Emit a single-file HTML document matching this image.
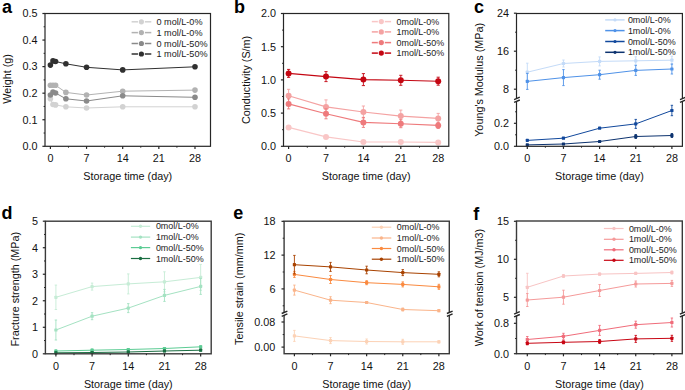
<!DOCTYPE html><html><head><meta charset="utf-8"><style>html,body{margin:0;padding:0;background:#fff;}svg{display:block;}text{font-family:"Liberation Sans",sans-serif;}</style></head><body>
<svg width="685" height="390" viewBox="0 0 685 390">
<rect width="685" height="390" fill="#fff"/>
<polyline points="50.40,98.80 52.98,104.50 55.56,104.90 65.89,106.80 86.55,108.00 122.70,106.80 194.99,106.80" fill="none" stroke="#d2d2d2" stroke-width="1.0"/>
<circle cx="50.40" cy="98.80" r="2.8" fill="#d2d2d2"/>
<circle cx="52.98" cy="104.50" r="2.8" fill="#d2d2d2"/>
<circle cx="55.56" cy="104.90" r="2.8" fill="#d2d2d2"/>
<circle cx="65.89" cy="106.80" r="2.8" fill="#d2d2d2"/>
<circle cx="86.55" cy="108.00" r="2.8" fill="#d2d2d2"/>
<circle cx="122.70" cy="106.80" r="2.8" fill="#d2d2d2"/>
<circle cx="194.99" cy="106.80" r="2.8" fill="#d2d2d2"/>
<polyline points="50.40,85.30 52.98,85.30 55.56,85.30 65.89,92.40 86.55,95.00 122.70,91.20 194.99,90.10" fill="none" stroke="#b2b2b2" stroke-width="1.0"/>
<circle cx="50.40" cy="85.30" r="2.8" fill="#b2b2b2"/>
<circle cx="52.98" cy="85.30" r="2.8" fill="#b2b2b2"/>
<circle cx="55.56" cy="85.30" r="2.8" fill="#b2b2b2"/>
<circle cx="65.89" cy="92.40" r="2.8" fill="#b2b2b2"/>
<circle cx="86.55" cy="95.00" r="2.8" fill="#b2b2b2"/>
<circle cx="122.70" cy="91.20" r="2.8" fill="#b2b2b2"/>
<circle cx="194.99" cy="90.10" r="2.8" fill="#b2b2b2"/>
<polyline points="50.40,95.00 52.98,92.00 55.56,93.00 65.89,98.80 86.55,101.00 122.70,95.80 194.99,97.30" fill="none" stroke="#8a8a8a" stroke-width="1.0"/>
<circle cx="50.40" cy="95.00" r="2.8" fill="#8a8a8a"/>
<circle cx="52.98" cy="92.00" r="2.8" fill="#8a8a8a"/>
<circle cx="55.56" cy="93.00" r="2.8" fill="#8a8a8a"/>
<circle cx="65.89" cy="98.80" r="2.8" fill="#8a8a8a"/>
<circle cx="86.55" cy="101.00" r="2.8" fill="#8a8a8a"/>
<circle cx="122.70" cy="95.80" r="2.8" fill="#8a8a8a"/>
<circle cx="194.99" cy="97.30" r="2.8" fill="#8a8a8a"/>
<polyline points="50.40,65.10 52.98,60.90 55.56,61.50 65.89,63.80 86.55,67.30 122.70,69.90 194.99,66.80" fill="none" stroke="#303030" stroke-width="1.0"/>
<circle cx="50.40" cy="65.10" r="2.8" fill="#303030"/>
<circle cx="52.98" cy="60.90" r="2.8" fill="#303030"/>
<circle cx="55.56" cy="61.50" r="2.8" fill="#303030"/>
<circle cx="65.89" cy="63.80" r="2.8" fill="#303030"/>
<circle cx="86.55" cy="67.30" r="2.8" fill="#303030"/>
<circle cx="122.70" cy="69.90" r="2.8" fill="#303030"/>
<circle cx="194.99" cy="66.80" r="2.8" fill="#303030"/>
<rect x="45.00" y="13.50" width="165.50" height="132.80" fill="none" stroke="#262626" stroke-width="1.2"/>
<line x1="42.40" y1="146.30" x2="45.00" y2="146.30" stroke="#262626" stroke-width="1.2" />
<text x="37.60" y="150.10" font-size="10.8" text-anchor="end" font-weight="normal" fill="#111" >0.0</text>
<line x1="42.40" y1="119.74" x2="45.00" y2="119.74" stroke="#262626" stroke-width="1.2" />
<text x="37.60" y="123.54" font-size="10.8" text-anchor="end" font-weight="normal" fill="#111" >0.1</text>
<line x1="42.40" y1="93.18" x2="45.00" y2="93.18" stroke="#262626" stroke-width="1.2" />
<text x="37.60" y="96.98" font-size="10.8" text-anchor="end" font-weight="normal" fill="#111" >0.2</text>
<line x1="42.40" y1="66.62" x2="45.00" y2="66.62" stroke="#262626" stroke-width="1.2" />
<text x="37.60" y="70.42" font-size="10.8" text-anchor="end" font-weight="normal" fill="#111" >0.3</text>
<line x1="42.40" y1="40.06" x2="45.00" y2="40.06" stroke="#262626" stroke-width="1.2" />
<text x="37.60" y="43.86" font-size="10.8" text-anchor="end" font-weight="normal" fill="#111" >0.4</text>
<line x1="42.40" y1="13.50" x2="45.00" y2="13.50" stroke="#262626" stroke-width="1.2" />
<text x="37.60" y="17.30" font-size="10.8" text-anchor="end" font-weight="normal" fill="#111" >0.5</text>
<line x1="43.60" y1="133.02" x2="45.00" y2="133.02" stroke="#262626" stroke-width="1.0" />
<line x1="43.60" y1="106.46" x2="45.00" y2="106.46" stroke="#262626" stroke-width="1.0" />
<line x1="43.60" y1="79.90" x2="45.00" y2="79.90" stroke="#262626" stroke-width="1.0" />
<line x1="43.60" y1="53.34" x2="45.00" y2="53.34" stroke="#262626" stroke-width="1.0" />
<line x1="43.60" y1="26.78" x2="45.00" y2="26.78" stroke="#262626" stroke-width="1.0" />
<line x1="50.40" y1="146.30" x2="50.40" y2="148.90" stroke="#262626" stroke-width="1.2" />
<text x="50.40" y="161.60" font-size="10.8" text-anchor="middle" font-weight="normal" fill="#111" >0</text>
<line x1="86.55" y1="146.30" x2="86.55" y2="148.90" stroke="#262626" stroke-width="1.2" />
<text x="86.55" y="161.60" font-size="10.8" text-anchor="middle" font-weight="normal" fill="#111" >7</text>
<line x1="122.70" y1="146.30" x2="122.70" y2="148.90" stroke="#262626" stroke-width="1.2" />
<text x="122.70" y="161.60" font-size="10.8" text-anchor="middle" font-weight="normal" fill="#111" >14</text>
<line x1="158.84" y1="146.30" x2="158.84" y2="148.90" stroke="#262626" stroke-width="1.2" />
<text x="158.84" y="161.60" font-size="10.8" text-anchor="middle" font-weight="normal" fill="#111" >21</text>
<line x1="194.99" y1="146.30" x2="194.99" y2="148.90" stroke="#262626" stroke-width="1.2" />
<text x="194.99" y="161.60" font-size="10.8" text-anchor="middle" font-weight="normal" fill="#111" >28</text>
<line x1="68.47" y1="146.30" x2="68.47" y2="147.70" stroke="#262626" stroke-width="1.0" />
<line x1="104.62" y1="146.30" x2="104.62" y2="147.70" stroke="#262626" stroke-width="1.0" />
<line x1="140.77" y1="146.30" x2="140.77" y2="147.70" stroke="#262626" stroke-width="1.0" />
<line x1="176.92" y1="146.30" x2="176.92" y2="147.70" stroke="#262626" stroke-width="1.0" />
<line x1="131.60" y1="21.80" x2="151.30" y2="21.80" stroke="#d2d2d2" stroke-width="1.5" />
<circle cx="141.40" cy="21.80" r="3.5" fill="#fff"/>
<circle cx="141.40" cy="21.80" r="2.6" fill="#d2d2d2"/>
<line x1="131.60" y1="32.60" x2="151.30" y2="32.60" stroke="#b2b2b2" stroke-width="1.5" />
<circle cx="141.40" cy="32.60" r="3.5" fill="#fff"/>
<circle cx="141.40" cy="32.60" r="2.6" fill="#b2b2b2"/>
<line x1="131.60" y1="43.50" x2="151.30" y2="43.50" stroke="#8a8a8a" stroke-width="1.5" />
<circle cx="141.40" cy="43.50" r="3.5" fill="#fff"/>
<circle cx="141.40" cy="43.50" r="2.6" fill="#8a8a8a"/>
<line x1="131.60" y1="54.00" x2="151.30" y2="54.00" stroke="#303030" stroke-width="1.5" />
<circle cx="141.40" cy="54.00" r="3.5" fill="#fff"/>
<circle cx="141.40" cy="54.00" r="2.6" fill="#303030"/>
<text x="156.50" y="24.90" font-size="9.1" fill="#222">0 mol/L-0%</text>
<text x="156.50" y="35.70" font-size="9.1" fill="#222">1 mol/L-0%</text>
<text x="156.50" y="46.60" font-size="9.1" fill="#222">0 mol/L-50%</text>
<text x="156.50" y="57.10" font-size="9.1" fill="#222">1 mol/L-50%</text>
<text x="0" y="0" font-size="10.8" text-anchor="middle" fill="#111" transform="translate(10.80,78.90) rotate(-90)">Weight (g)</text>
<text x="127.75" y="179.70" font-size="10.8" text-anchor="middle" font-weight="normal" fill="#111" >Storage time (day)</text>
<text x="2.00" y="12.60" font-size="18" text-anchor="start" font-weight="bold" fill="#000" >a</text>
<polyline points="288.60,127.40 326.00,136.90 363.40,142.00 400.80,142.00 438.20,142.40" fill="none" stroke="#f9c6c6" stroke-width="1.1"/>
<circle cx="288.60" cy="127.40" r="3.0" fill="#f9c6c6"/>
<circle cx="326.00" cy="136.90" r="3.0" fill="#f9c6c6"/>
<circle cx="363.40" cy="142.00" r="3.0" fill="#f9c6c6"/>
<circle cx="400.80" cy="142.00" r="3.0" fill="#f9c6c6"/>
<circle cx="438.20" cy="142.40" r="3.0" fill="#f9c6c6"/>
<polyline points="288.60,95.80 326.00,106.90 363.40,112.00 400.80,116.10 438.20,118.40" fill="none" stroke="#f4a2a2" stroke-width="1.1"/>
<line x1="288.60" y1="89.30" x2="288.60" y2="102.30" stroke="#f4a2a2" stroke-width="0.9" />
<line x1="287.00" y1="89.30" x2="290.20" y2="89.30" stroke="#f4a2a2" stroke-width="0.9" />
<line x1="287.00" y1="102.30" x2="290.20" y2="102.30" stroke="#f4a2a2" stroke-width="0.9" />
<line x1="326.00" y1="99.90" x2="326.00" y2="113.90" stroke="#f4a2a2" stroke-width="0.9" />
<line x1="324.40" y1="99.90" x2="327.60" y2="99.90" stroke="#f4a2a2" stroke-width="0.9" />
<line x1="324.40" y1="113.90" x2="327.60" y2="113.90" stroke="#f4a2a2" stroke-width="0.9" />
<line x1="363.40" y1="106.00" x2="363.40" y2="118.00" stroke="#f4a2a2" stroke-width="0.9" />
<line x1="361.80" y1="106.00" x2="365.00" y2="106.00" stroke="#f4a2a2" stroke-width="0.9" />
<line x1="361.80" y1="118.00" x2="365.00" y2="118.00" stroke="#f4a2a2" stroke-width="0.9" />
<line x1="400.80" y1="110.10" x2="400.80" y2="122.10" stroke="#f4a2a2" stroke-width="0.9" />
<line x1="399.20" y1="110.10" x2="402.40" y2="110.10" stroke="#f4a2a2" stroke-width="0.9" />
<line x1="399.20" y1="122.10" x2="402.40" y2="122.10" stroke="#f4a2a2" stroke-width="0.9" />
<line x1="438.20" y1="113.40" x2="438.20" y2="123.40" stroke="#f4a2a2" stroke-width="0.9" />
<line x1="436.60" y1="113.40" x2="439.80" y2="113.40" stroke="#f4a2a2" stroke-width="0.9" />
<line x1="436.60" y1="123.40" x2="439.80" y2="123.40" stroke="#f4a2a2" stroke-width="0.9" />
<circle cx="288.60" cy="95.80" r="3.0" fill="#f4a2a2"/>
<circle cx="326.00" cy="106.90" r="3.0" fill="#f4a2a2"/>
<circle cx="363.40" cy="112.00" r="3.0" fill="#f4a2a2"/>
<circle cx="400.80" cy="116.10" r="3.0" fill="#f4a2a2"/>
<circle cx="438.20" cy="118.40" r="3.0" fill="#f4a2a2"/>
<polyline points="288.60,103.90 326.00,113.80 363.40,122.40 400.80,123.70 438.20,125.40" fill="none" stroke="#ee7a7c" stroke-width="1.1"/>
<line x1="288.60" y1="98.90" x2="288.60" y2="108.90" stroke="#ee7a7c" stroke-width="0.9" />
<line x1="287.00" y1="98.90" x2="290.20" y2="98.90" stroke="#ee7a7c" stroke-width="0.9" />
<line x1="287.00" y1="108.90" x2="290.20" y2="108.90" stroke="#ee7a7c" stroke-width="0.9" />
<line x1="326.00" y1="108.80" x2="326.00" y2="118.80" stroke="#ee7a7c" stroke-width="0.9" />
<line x1="324.40" y1="108.80" x2="327.60" y2="108.80" stroke="#ee7a7c" stroke-width="0.9" />
<line x1="324.40" y1="118.80" x2="327.60" y2="118.80" stroke="#ee7a7c" stroke-width="0.9" />
<line x1="363.40" y1="117.40" x2="363.40" y2="127.40" stroke="#ee7a7c" stroke-width="0.9" />
<line x1="361.80" y1="117.40" x2="365.00" y2="117.40" stroke="#ee7a7c" stroke-width="0.9" />
<line x1="361.80" y1="127.40" x2="365.00" y2="127.40" stroke="#ee7a7c" stroke-width="0.9" />
<line x1="400.80" y1="119.70" x2="400.80" y2="127.70" stroke="#ee7a7c" stroke-width="0.9" />
<line x1="399.20" y1="119.70" x2="402.40" y2="119.70" stroke="#ee7a7c" stroke-width="0.9" />
<line x1="399.20" y1="127.70" x2="402.40" y2="127.70" stroke="#ee7a7c" stroke-width="0.9" />
<line x1="438.20" y1="122.40" x2="438.20" y2="128.40" stroke="#ee7a7c" stroke-width="0.9" />
<line x1="436.60" y1="122.40" x2="439.80" y2="122.40" stroke="#ee7a7c" stroke-width="0.9" />
<line x1="436.60" y1="128.40" x2="439.80" y2="128.40" stroke="#ee7a7c" stroke-width="0.9" />
<circle cx="288.60" cy="103.90" r="3.0" fill="#ee7a7c"/>
<circle cx="326.00" cy="113.80" r="3.0" fill="#ee7a7c"/>
<circle cx="363.40" cy="122.40" r="3.0" fill="#ee7a7c"/>
<circle cx="400.80" cy="123.70" r="3.0" fill="#ee7a7c"/>
<circle cx="438.20" cy="125.40" r="3.0" fill="#ee7a7c"/>
<polyline points="288.60,73.40 326.00,76.60 363.40,79.60 400.80,80.30 438.20,81.20" fill="none" stroke="#c40612" stroke-width="1.1"/>
<line x1="288.60" y1="69.40" x2="288.60" y2="77.40" stroke="#c40612" stroke-width="0.9" />
<line x1="287.00" y1="69.40" x2="290.20" y2="69.40" stroke="#c40612" stroke-width="0.9" />
<line x1="287.00" y1="77.40" x2="290.20" y2="77.40" stroke="#c40612" stroke-width="0.9" />
<line x1="326.00" y1="71.60" x2="326.00" y2="81.60" stroke="#c40612" stroke-width="0.9" />
<line x1="324.40" y1="71.60" x2="327.60" y2="71.60" stroke="#c40612" stroke-width="0.9" />
<line x1="324.40" y1="81.60" x2="327.60" y2="81.60" stroke="#c40612" stroke-width="0.9" />
<line x1="363.40" y1="73.60" x2="363.40" y2="85.60" stroke="#c40612" stroke-width="0.9" />
<line x1="361.80" y1="73.60" x2="365.00" y2="73.60" stroke="#c40612" stroke-width="0.9" />
<line x1="361.80" y1="85.60" x2="365.00" y2="85.60" stroke="#c40612" stroke-width="0.9" />
<line x1="400.80" y1="75.30" x2="400.80" y2="85.30" stroke="#c40612" stroke-width="0.9" />
<line x1="399.20" y1="75.30" x2="402.40" y2="75.30" stroke="#c40612" stroke-width="0.9" />
<line x1="399.20" y1="85.30" x2="402.40" y2="85.30" stroke="#c40612" stroke-width="0.9" />
<line x1="438.20" y1="77.20" x2="438.20" y2="85.20" stroke="#c40612" stroke-width="0.9" />
<line x1="436.60" y1="77.20" x2="439.80" y2="77.20" stroke="#c40612" stroke-width="0.9" />
<line x1="436.60" y1="85.20" x2="439.80" y2="85.20" stroke="#c40612" stroke-width="0.9" />
<circle cx="288.60" cy="73.40" r="3.0" fill="#c40612"/>
<circle cx="326.00" cy="76.60" r="3.0" fill="#c40612"/>
<circle cx="363.40" cy="79.60" r="3.0" fill="#c40612"/>
<circle cx="400.80" cy="80.30" r="3.0" fill="#c40612"/>
<circle cx="438.20" cy="81.20" r="3.0" fill="#c40612"/>
<rect x="283.50" y="13.50" width="165.30" height="132.80" fill="none" stroke="#262626" stroke-width="1.2"/>
<line x1="280.90" y1="146.30" x2="283.50" y2="146.30" stroke="#262626" stroke-width="1.2" />
<text x="276.10" y="150.10" font-size="10.8" text-anchor="end" font-weight="normal" fill="#111" >0.0</text>
<line x1="280.90" y1="113.10" x2="283.50" y2="113.10" stroke="#262626" stroke-width="1.2" />
<text x="276.10" y="116.90" font-size="10.8" text-anchor="end" font-weight="normal" fill="#111" >0.5</text>
<line x1="280.90" y1="79.90" x2="283.50" y2="79.90" stroke="#262626" stroke-width="1.2" />
<text x="276.10" y="83.70" font-size="10.8" text-anchor="end" font-weight="normal" fill="#111" >1.0</text>
<line x1="280.90" y1="46.70" x2="283.50" y2="46.70" stroke="#262626" stroke-width="1.2" />
<text x="276.10" y="50.50" font-size="10.8" text-anchor="end" font-weight="normal" fill="#111" >1.5</text>
<line x1="280.90" y1="13.50" x2="283.50" y2="13.50" stroke="#262626" stroke-width="1.2" />
<text x="276.10" y="17.30" font-size="10.8" text-anchor="end" font-weight="normal" fill="#111" >2.0</text>
<line x1="282.10" y1="129.70" x2="283.50" y2="129.70" stroke="#262626" stroke-width="1.0" />
<line x1="282.10" y1="96.50" x2="283.50" y2="96.50" stroke="#262626" stroke-width="1.0" />
<line x1="282.10" y1="63.30" x2="283.50" y2="63.30" stroke="#262626" stroke-width="1.0" />
<line x1="282.10" y1="30.10" x2="283.50" y2="30.10" stroke="#262626" stroke-width="1.0" />
<line x1="288.60" y1="146.30" x2="288.60" y2="148.90" stroke="#262626" stroke-width="1.2" />
<text x="288.60" y="161.60" font-size="10.8" text-anchor="middle" font-weight="normal" fill="#111" >0</text>
<line x1="326.00" y1="146.30" x2="326.00" y2="148.90" stroke="#262626" stroke-width="1.2" />
<text x="326.00" y="161.60" font-size="10.8" text-anchor="middle" font-weight="normal" fill="#111" >7</text>
<line x1="363.40" y1="146.30" x2="363.40" y2="148.90" stroke="#262626" stroke-width="1.2" />
<text x="363.40" y="161.60" font-size="10.8" text-anchor="middle" font-weight="normal" fill="#111" >14</text>
<line x1="400.80" y1="146.30" x2="400.80" y2="148.90" stroke="#262626" stroke-width="1.2" />
<text x="400.80" y="161.60" font-size="10.8" text-anchor="middle" font-weight="normal" fill="#111" >21</text>
<line x1="438.20" y1="146.30" x2="438.20" y2="148.90" stroke="#262626" stroke-width="1.2" />
<text x="438.20" y="161.60" font-size="10.8" text-anchor="middle" font-weight="normal" fill="#111" >28</text>
<line x1="307.30" y1="146.30" x2="307.30" y2="147.70" stroke="#262626" stroke-width="1.0" />
<line x1="344.70" y1="146.30" x2="344.70" y2="147.70" stroke="#262626" stroke-width="1.0" />
<line x1="382.10" y1="146.30" x2="382.10" y2="147.70" stroke="#262626" stroke-width="1.0" />
<line x1="419.50" y1="146.30" x2="419.50" y2="147.70" stroke="#262626" stroke-width="1.0" />
<line x1="371.80" y1="21.60" x2="391.10" y2="21.60" stroke="#f9c6c6" stroke-width="1.5" />
<circle cx="381.30" cy="21.60" r="3.5" fill="#fff"/>
<circle cx="381.30" cy="21.60" r="2.6" fill="#f9c6c6"/>
<line x1="371.80" y1="31.90" x2="391.10" y2="31.90" stroke="#f4a2a2" stroke-width="1.5" />
<circle cx="381.30" cy="31.90" r="3.5" fill="#fff"/>
<circle cx="381.30" cy="31.90" r="2.6" fill="#f4a2a2"/>
<line x1="371.80" y1="42.60" x2="391.10" y2="42.60" stroke="#ee7a7c" stroke-width="1.5" />
<circle cx="381.30" cy="42.60" r="3.5" fill="#fff"/>
<circle cx="381.30" cy="42.60" r="2.6" fill="#ee7a7c"/>
<line x1="371.80" y1="53.10" x2="391.10" y2="53.10" stroke="#c40612" stroke-width="1.5" />
<circle cx="381.30" cy="53.10" r="3.5" fill="#fff"/>
<circle cx="381.30" cy="53.10" r="2.6" fill="#c40612"/>
<text x="396.50" y="24.70" font-size="8.95" fill="#222">0mol/L-0%</text>
<text x="396.50" y="35.00" font-size="8.95" fill="#222">1mol/L-0%</text>
<text x="396.50" y="45.70" font-size="8.95" fill="#222">0mol/L-50%</text>
<text x="396.50" y="56.20" font-size="8.95" fill="#222">1mol/L-50%</text>
<text x="0" y="0" font-size="10.8" text-anchor="middle" fill="#111" transform="translate(250.20,79.90) rotate(-90)">Conductivity (S/m)</text>
<text x="366.15" y="179.70" font-size="10.8" text-anchor="middle" font-weight="normal" fill="#111" >Storage time (day)</text>
<text x="234.00" y="12.90" font-size="18" text-anchor="start" font-weight="bold" fill="#000" >b</text>
<polyline points="527.30,72.20 563.45,63.50 599.60,61.40 635.74,60.80 671.89,60.20" fill="none" stroke="#c4dbf8" stroke-width="1.0"/>
<line x1="527.30" y1="63.20" x2="527.30" y2="81.20" stroke="#c4dbf8" stroke-width="0.9" />
<line x1="526.10" y1="63.20" x2="528.50" y2="63.20" stroke="#c4dbf8" stroke-width="0.9" />
<line x1="526.10" y1="81.20" x2="528.50" y2="81.20" stroke="#c4dbf8" stroke-width="0.9" />
<line x1="563.45" y1="60.00" x2="563.45" y2="67.00" stroke="#c4dbf8" stroke-width="0.9" />
<line x1="562.25" y1="60.00" x2="564.65" y2="60.00" stroke="#c4dbf8" stroke-width="0.9" />
<line x1="562.25" y1="67.00" x2="564.65" y2="67.00" stroke="#c4dbf8" stroke-width="0.9" />
<line x1="599.60" y1="56.90" x2="599.60" y2="65.90" stroke="#c4dbf8" stroke-width="0.9" />
<line x1="598.40" y1="56.90" x2="600.80" y2="56.90" stroke="#c4dbf8" stroke-width="0.9" />
<line x1="598.40" y1="65.90" x2="600.80" y2="65.90" stroke="#c4dbf8" stroke-width="0.9" />
<line x1="635.74" y1="56.80" x2="635.74" y2="64.80" stroke="#c4dbf8" stroke-width="0.9" />
<line x1="634.54" y1="56.80" x2="636.94" y2="56.80" stroke="#c4dbf8" stroke-width="0.9" />
<line x1="634.54" y1="64.80" x2="636.94" y2="64.80" stroke="#c4dbf8" stroke-width="0.9" />
<line x1="671.89" y1="56.20" x2="671.89" y2="64.20" stroke="#c4dbf8" stroke-width="0.9" />
<line x1="670.69" y1="56.20" x2="673.09" y2="56.20" stroke="#c4dbf8" stroke-width="0.9" />
<line x1="670.69" y1="64.20" x2="673.09" y2="64.20" stroke="#c4dbf8" stroke-width="0.9" />
<rect x="525.70" y="70.60" width="3.20" height="3.20" rx="0.64" fill="#c4dbf8"/>
<rect x="561.85" y="61.90" width="3.20" height="3.20" rx="0.64" fill="#c4dbf8"/>
<rect x="598.00" y="59.80" width="3.20" height="3.20" rx="0.64" fill="#c4dbf8"/>
<rect x="634.14" y="59.20" width="3.20" height="3.20" rx="0.64" fill="#c4dbf8"/>
<rect x="670.29" y="58.60" width="3.20" height="3.20" rx="0.64" fill="#c4dbf8"/>
<polyline points="527.30,81.40 563.45,77.60 599.60,74.70 635.74,70.40 671.89,69.00" fill="none" stroke="#4f92e8" stroke-width="1.0"/>
<line x1="527.30" y1="73.40" x2="527.30" y2="89.40" stroke="#4f92e8" stroke-width="0.9" />
<line x1="526.10" y1="73.40" x2="528.50" y2="73.40" stroke="#4f92e8" stroke-width="0.9" />
<line x1="526.10" y1="89.40" x2="528.50" y2="89.40" stroke="#4f92e8" stroke-width="0.9" />
<line x1="563.45" y1="69.60" x2="563.45" y2="85.60" stroke="#4f92e8" stroke-width="0.9" />
<line x1="562.25" y1="69.60" x2="564.65" y2="69.60" stroke="#4f92e8" stroke-width="0.9" />
<line x1="562.25" y1="85.60" x2="564.65" y2="85.60" stroke="#4f92e8" stroke-width="0.9" />
<line x1="599.60" y1="70.20" x2="599.60" y2="79.20" stroke="#4f92e8" stroke-width="0.9" />
<line x1="598.40" y1="70.20" x2="600.80" y2="70.20" stroke="#4f92e8" stroke-width="0.9" />
<line x1="598.40" y1="79.20" x2="600.80" y2="79.20" stroke="#4f92e8" stroke-width="0.9" />
<line x1="635.74" y1="65.40" x2="635.74" y2="75.40" stroke="#4f92e8" stroke-width="0.9" />
<line x1="634.54" y1="65.40" x2="636.94" y2="65.40" stroke="#4f92e8" stroke-width="0.9" />
<line x1="634.54" y1="75.40" x2="636.94" y2="75.40" stroke="#4f92e8" stroke-width="0.9" />
<line x1="671.89" y1="64.00" x2="671.89" y2="74.00" stroke="#4f92e8" stroke-width="0.9" />
<line x1="670.69" y1="64.00" x2="673.09" y2="64.00" stroke="#4f92e8" stroke-width="0.9" />
<line x1="670.69" y1="74.00" x2="673.09" y2="74.00" stroke="#4f92e8" stroke-width="0.9" />
<rect x="525.70" y="79.80" width="3.20" height="3.20" rx="0.64" fill="#4f92e8"/>
<rect x="561.85" y="76.00" width="3.20" height="3.20" rx="0.64" fill="#4f92e8"/>
<rect x="598.00" y="73.10" width="3.20" height="3.20" rx="0.64" fill="#4f92e8"/>
<rect x="634.14" y="68.80" width="3.20" height="3.20" rx="0.64" fill="#4f92e8"/>
<rect x="670.29" y="67.40" width="3.20" height="3.20" rx="0.64" fill="#4f92e8"/>
<polyline points="527.30,140.40 563.45,138.20 599.60,128.20 635.74,123.90 671.89,110.50" fill="none" stroke="#11489c" stroke-width="1.0"/>
<line x1="635.74" y1="119.40" x2="635.74" y2="128.40" stroke="#11489c" stroke-width="0.9" />
<line x1="634.54" y1="119.40" x2="636.94" y2="119.40" stroke="#11489c" stroke-width="0.9" />
<line x1="634.54" y1="128.40" x2="636.94" y2="128.40" stroke="#11489c" stroke-width="0.9" />
<line x1="671.89" y1="105.30" x2="671.89" y2="115.70" stroke="#11489c" stroke-width="0.9" />
<line x1="670.69" y1="105.30" x2="673.09" y2="105.30" stroke="#11489c" stroke-width="0.9" />
<line x1="670.69" y1="115.70" x2="673.09" y2="115.70" stroke="#11489c" stroke-width="0.9" />
<rect x="525.70" y="138.80" width="3.20" height="3.20" rx="0.64" fill="#11489c"/>
<rect x="561.85" y="136.60" width="3.20" height="3.20" rx="0.64" fill="#11489c"/>
<rect x="598.00" y="126.60" width="3.20" height="3.20" rx="0.64" fill="#11489c"/>
<rect x="634.14" y="122.30" width="3.20" height="3.20" rx="0.64" fill="#11489c"/>
<rect x="670.29" y="108.90" width="3.20" height="3.20" rx="0.64" fill="#11489c"/>
<polyline points="527.30,144.90 563.45,144.00 599.60,141.50 635.74,136.50 671.89,135.50" fill="none" stroke="#0d336f" stroke-width="1.0"/>
<line x1="635.74" y1="134.50" x2="635.74" y2="138.50" stroke="#0d336f" stroke-width="0.9" />
<line x1="634.54" y1="134.50" x2="636.94" y2="134.50" stroke="#0d336f" stroke-width="0.9" />
<line x1="634.54" y1="138.50" x2="636.94" y2="138.50" stroke="#0d336f" stroke-width="0.9" />
<line x1="671.89" y1="133.50" x2="671.89" y2="137.50" stroke="#0d336f" stroke-width="0.9" />
<line x1="670.69" y1="133.50" x2="673.09" y2="133.50" stroke="#0d336f" stroke-width="0.9" />
<line x1="670.69" y1="137.50" x2="673.09" y2="137.50" stroke="#0d336f" stroke-width="0.9" />
<rect x="525.70" y="143.30" width="3.20" height="3.20" rx="0.64" fill="#0d336f"/>
<rect x="561.85" y="142.40" width="3.20" height="3.20" rx="0.64" fill="#0d336f"/>
<rect x="598.00" y="139.90" width="3.20" height="3.20" rx="0.64" fill="#0d336f"/>
<rect x="634.14" y="134.90" width="3.20" height="3.20" rx="0.64" fill="#0d336f"/>
<rect x="670.29" y="133.90" width="3.20" height="3.20" rx="0.64" fill="#0d336f"/>
<rect x="516.50" y="13.50" width="165.90" height="132.80" fill="none" stroke="#262626" stroke-width="1.2"/>
<line x1="513.90" y1="89.20" x2="516.50" y2="89.20" stroke="#262626" stroke-width="1.2" />
<text x="509.10" y="93.00" font-size="10.8" text-anchor="end" font-weight="normal" fill="#111" >8</text>
<line x1="513.90" y1="51.20" x2="516.50" y2="51.20" stroke="#262626" stroke-width="1.2" />
<text x="509.10" y="55.00" font-size="10.8" text-anchor="end" font-weight="normal" fill="#111" >16</text>
<line x1="513.90" y1="13.20" x2="516.50" y2="13.20" stroke="#262626" stroke-width="1.2" />
<text x="509.10" y="17.00" font-size="10.8" text-anchor="end" font-weight="normal" fill="#111" >24</text>
<line x1="515.10" y1="70.20" x2="516.50" y2="70.20" stroke="#262626" stroke-width="1.0" />
<line x1="515.10" y1="32.20" x2="516.50" y2="32.20" stroke="#262626" stroke-width="1.0" />
<line x1="513.90" y1="146.30" x2="516.50" y2="146.30" stroke="#262626" stroke-width="1.2" />
<text x="509.10" y="150.10" font-size="10.8" text-anchor="end" font-weight="normal" fill="#111" >0.0</text>
<line x1="513.90" y1="123.30" x2="516.50" y2="123.30" stroke="#262626" stroke-width="1.2" />
<text x="509.10" y="127.10" font-size="10.8" text-anchor="end" font-weight="normal" fill="#111" >0.2</text>
<line x1="515.10" y1="134.80" x2="516.50" y2="134.80" stroke="#262626" stroke-width="1.0" />
<line x1="515.10" y1="111.80" x2="516.50" y2="111.80" stroke="#262626" stroke-width="1.0" />
<polygon points="513.50,101.30 519.50,98.90 519.50,98.30 513.50,101.90" fill="#fff"/>
<rect x="515.00" y="98.30" width="3" height="2.8" fill="#fff"/>
<line x1="514.10" y1="99.60" x2="519.80" y2="97.20" stroke="#262626" stroke-width="1.4" />
<line x1="514.10" y1="102.40" x2="519.80" y2="100.00" stroke="#262626" stroke-width="1.4" />
<polygon points="679.40,101.30 685.40,98.90 685.40,98.30 679.40,101.90" fill="#fff"/>
<rect x="680.90" y="98.30" width="3" height="2.8" fill="#fff"/>
<line x1="680.00" y1="99.60" x2="685.70" y2="97.20" stroke="#262626" stroke-width="1.4" />
<line x1="680.00" y1="102.40" x2="685.70" y2="100.00" stroke="#262626" stroke-width="1.4" />
<line x1="527.30" y1="146.30" x2="527.30" y2="148.90" stroke="#262626" stroke-width="1.2" />
<text x="527.30" y="161.60" font-size="10.8" text-anchor="middle" font-weight="normal" fill="#111" >0</text>
<line x1="563.45" y1="146.30" x2="563.45" y2="148.90" stroke="#262626" stroke-width="1.2" />
<text x="563.45" y="161.60" font-size="10.8" text-anchor="middle" font-weight="normal" fill="#111" >7</text>
<line x1="599.60" y1="146.30" x2="599.60" y2="148.90" stroke="#262626" stroke-width="1.2" />
<text x="599.60" y="161.60" font-size="10.8" text-anchor="middle" font-weight="normal" fill="#111" >14</text>
<line x1="635.74" y1="146.30" x2="635.74" y2="148.90" stroke="#262626" stroke-width="1.2" />
<text x="635.74" y="161.60" font-size="10.8" text-anchor="middle" font-weight="normal" fill="#111" >21</text>
<line x1="671.89" y1="146.30" x2="671.89" y2="148.90" stroke="#262626" stroke-width="1.2" />
<text x="671.89" y="161.60" font-size="10.8" text-anchor="middle" font-weight="normal" fill="#111" >28</text>
<line x1="545.37" y1="146.30" x2="545.37" y2="147.70" stroke="#262626" stroke-width="1.0" />
<line x1="581.52" y1="146.30" x2="581.52" y2="147.70" stroke="#262626" stroke-width="1.0" />
<line x1="617.67" y1="146.30" x2="617.67" y2="147.70" stroke="#262626" stroke-width="1.0" />
<line x1="653.82" y1="146.30" x2="653.82" y2="147.70" stroke="#262626" stroke-width="1.0" />
<line x1="605.20" y1="19.90" x2="624.60" y2="19.90" stroke="#c4dbf8" stroke-width="1.5" />
<circle cx="615.00" cy="19.90" r="1.6" fill="#c4dbf8"/>
<line x1="605.20" y1="30.60" x2="624.60" y2="30.60" stroke="#4f92e8" stroke-width="1.5" />
<circle cx="615.00" cy="30.60" r="1.6" fill="#4f92e8"/>
<line x1="605.20" y1="41.50" x2="624.60" y2="41.50" stroke="#11489c" stroke-width="1.5" />
<circle cx="615.00" cy="41.50" r="1.6" fill="#11489c"/>
<line x1="605.20" y1="52.30" x2="624.60" y2="52.30" stroke="#0d336f" stroke-width="1.5" />
<circle cx="615.00" cy="52.30" r="1.6" fill="#0d336f"/>
<text x="627.90" y="23.00" font-size="8.95" fill="#222">0mol/L-0%</text>
<text x="627.90" y="33.70" font-size="8.95" fill="#222">1mol/L-0%</text>
<text x="627.90" y="44.60" font-size="8.95" fill="#222">0mol/L-50%</text>
<text x="627.90" y="55.40" font-size="8.95" fill="#222">1mol/L-50%</text>
<text x="0" y="0" font-size="10.8" text-anchor="middle" fill="#111" transform="translate(482.60,79.90) rotate(-90)">Young's Modulus (MPa)</text>
<text x="599.45" y="179.70" font-size="10.8" text-anchor="middle" font-weight="normal" fill="#111" >Storage time (day)</text>
<text x="474.00" y="13.00" font-size="18" text-anchor="start" font-weight="bold" fill="#000" >c</text>
<polyline points="55.90,297.30 92.09,286.60 128.28,283.90 164.47,281.80 200.66,277.40" fill="none" stroke="#c6ecd6" stroke-width="1.0"/>
<line x1="55.90" y1="285.10" x2="55.90" y2="309.50" stroke="#c6ecd6" stroke-width="0.9" />
<line x1="54.70" y1="285.10" x2="57.10" y2="285.10" stroke="#c6ecd6" stroke-width="0.9" />
<line x1="54.70" y1="309.50" x2="57.10" y2="309.50" stroke="#c6ecd6" stroke-width="0.9" />
<line x1="92.09" y1="283.10" x2="92.09" y2="290.10" stroke="#c6ecd6" stroke-width="0.9" />
<line x1="90.89" y1="283.10" x2="93.29" y2="283.10" stroke="#c6ecd6" stroke-width="0.9" />
<line x1="90.89" y1="290.10" x2="93.29" y2="290.10" stroke="#c6ecd6" stroke-width="0.9" />
<line x1="128.28" y1="273.90" x2="128.28" y2="293.90" stroke="#c6ecd6" stroke-width="0.9" />
<line x1="127.08" y1="273.90" x2="129.48" y2="273.90" stroke="#c6ecd6" stroke-width="0.9" />
<line x1="127.08" y1="293.90" x2="129.48" y2="293.90" stroke="#c6ecd6" stroke-width="0.9" />
<line x1="164.47" y1="271.80" x2="164.47" y2="291.80" stroke="#c6ecd6" stroke-width="0.9" />
<line x1="163.27" y1="271.80" x2="165.67" y2="271.80" stroke="#c6ecd6" stroke-width="0.9" />
<line x1="163.27" y1="291.80" x2="165.67" y2="291.80" stroke="#c6ecd6" stroke-width="0.9" />
<line x1="200.66" y1="264.40" x2="200.66" y2="290.40" stroke="#c6ecd6" stroke-width="0.9" />
<line x1="199.46" y1="264.40" x2="201.86" y2="264.40" stroke="#c6ecd6" stroke-width="0.9" />
<line x1="199.46" y1="290.40" x2="201.86" y2="290.40" stroke="#c6ecd6" stroke-width="0.9" />
<rect x="54.30" y="295.70" width="3.20" height="3.20" rx="0.64" fill="#c6ecd6"/>
<rect x="90.49" y="285.00" width="3.20" height="3.20" rx="0.64" fill="#c6ecd6"/>
<rect x="126.68" y="282.30" width="3.20" height="3.20" rx="0.64" fill="#c6ecd6"/>
<rect x="162.87" y="280.20" width="3.20" height="3.20" rx="0.64" fill="#c6ecd6"/>
<rect x="199.06" y="275.80" width="3.20" height="3.20" rx="0.64" fill="#c6ecd6"/>
<polyline points="55.90,330.00 92.09,316.20 128.28,308.10 164.47,295.40 200.66,286.40" fill="none" stroke="#a4e2c2" stroke-width="1.0"/>
<line x1="55.90" y1="320.00" x2="55.90" y2="340.00" stroke="#a4e2c2" stroke-width="0.9" />
<line x1="54.70" y1="320.00" x2="57.10" y2="320.00" stroke="#a4e2c2" stroke-width="0.9" />
<line x1="54.70" y1="340.00" x2="57.10" y2="340.00" stroke="#a4e2c2" stroke-width="0.9" />
<line x1="92.09" y1="312.70" x2="92.09" y2="319.70" stroke="#a4e2c2" stroke-width="0.9" />
<line x1="90.89" y1="312.70" x2="93.29" y2="312.70" stroke="#a4e2c2" stroke-width="0.9" />
<line x1="90.89" y1="319.70" x2="93.29" y2="319.70" stroke="#a4e2c2" stroke-width="0.9" />
<line x1="128.28" y1="303.60" x2="128.28" y2="312.60" stroke="#a4e2c2" stroke-width="0.9" />
<line x1="127.08" y1="303.60" x2="129.48" y2="303.60" stroke="#a4e2c2" stroke-width="0.9" />
<line x1="127.08" y1="312.60" x2="129.48" y2="312.60" stroke="#a4e2c2" stroke-width="0.9" />
<line x1="164.47" y1="289.40" x2="164.47" y2="301.40" stroke="#a4e2c2" stroke-width="0.9" />
<line x1="163.27" y1="289.40" x2="165.67" y2="289.40" stroke="#a4e2c2" stroke-width="0.9" />
<line x1="163.27" y1="301.40" x2="165.67" y2="301.40" stroke="#a4e2c2" stroke-width="0.9" />
<line x1="200.66" y1="278.40" x2="200.66" y2="294.40" stroke="#a4e2c2" stroke-width="0.9" />
<line x1="199.46" y1="278.40" x2="201.86" y2="278.40" stroke="#a4e2c2" stroke-width="0.9" />
<line x1="199.46" y1="294.40" x2="201.86" y2="294.40" stroke="#a4e2c2" stroke-width="0.9" />
<rect x="54.30" y="328.40" width="3.20" height="3.20" rx="0.64" fill="#a4e2c2"/>
<rect x="90.49" y="314.60" width="3.20" height="3.20" rx="0.64" fill="#a4e2c2"/>
<rect x="126.68" y="306.50" width="3.20" height="3.20" rx="0.64" fill="#a4e2c2"/>
<rect x="162.87" y="293.80" width="3.20" height="3.20" rx="0.64" fill="#a4e2c2"/>
<rect x="199.06" y="284.80" width="3.20" height="3.20" rx="0.64" fill="#a4e2c2"/>
<polyline points="55.90,351.00 92.09,350.20 128.28,349.50 164.47,348.50 200.66,346.80" fill="none" stroke="#5ccc94" stroke-width="1.0"/>
<line x1="55.90" y1="350.00" x2="55.90" y2="352.00" stroke="#5ccc94" stroke-width="0.9" />
<line x1="54.70" y1="350.00" x2="57.10" y2="350.00" stroke="#5ccc94" stroke-width="0.9" />
<line x1="54.70" y1="352.00" x2="57.10" y2="352.00" stroke="#5ccc94" stroke-width="0.9" />
<line x1="92.09" y1="349.20" x2="92.09" y2="351.20" stroke="#5ccc94" stroke-width="0.9" />
<line x1="90.89" y1="349.20" x2="93.29" y2="349.20" stroke="#5ccc94" stroke-width="0.9" />
<line x1="90.89" y1="351.20" x2="93.29" y2="351.20" stroke="#5ccc94" stroke-width="0.9" />
<line x1="128.28" y1="348.50" x2="128.28" y2="350.50" stroke="#5ccc94" stroke-width="0.9" />
<line x1="127.08" y1="348.50" x2="129.48" y2="348.50" stroke="#5ccc94" stroke-width="0.9" />
<line x1="127.08" y1="350.50" x2="129.48" y2="350.50" stroke="#5ccc94" stroke-width="0.9" />
<line x1="164.47" y1="347.50" x2="164.47" y2="349.50" stroke="#5ccc94" stroke-width="0.9" />
<line x1="163.27" y1="347.50" x2="165.67" y2="347.50" stroke="#5ccc94" stroke-width="0.9" />
<line x1="163.27" y1="349.50" x2="165.67" y2="349.50" stroke="#5ccc94" stroke-width="0.9" />
<line x1="200.66" y1="345.80" x2="200.66" y2="347.80" stroke="#5ccc94" stroke-width="0.9" />
<line x1="199.46" y1="345.80" x2="201.86" y2="345.80" stroke="#5ccc94" stroke-width="0.9" />
<line x1="199.46" y1="347.80" x2="201.86" y2="347.80" stroke="#5ccc94" stroke-width="0.9" />
<rect x="54.30" y="349.40" width="3.20" height="3.20" rx="0.64" fill="#5ccc94"/>
<rect x="90.49" y="348.60" width="3.20" height="3.20" rx="0.64" fill="#5ccc94"/>
<rect x="126.68" y="347.90" width="3.20" height="3.20" rx="0.64" fill="#5ccc94"/>
<rect x="162.87" y="346.90" width="3.20" height="3.20" rx="0.64" fill="#5ccc94"/>
<rect x="199.06" y="345.20" width="3.20" height="3.20" rx="0.64" fill="#5ccc94"/>
<polyline points="55.90,352.80 92.09,352.50 128.28,352.00 164.47,351.00 200.66,350.20" fill="none" stroke="#1a6e42" stroke-width="1.0"/>
<line x1="55.90" y1="352.00" x2="55.90" y2="353.60" stroke="#1a6e42" stroke-width="0.9" />
<line x1="54.70" y1="352.00" x2="57.10" y2="352.00" stroke="#1a6e42" stroke-width="0.9" />
<line x1="54.70" y1="353.60" x2="57.10" y2="353.60" stroke="#1a6e42" stroke-width="0.9" />
<line x1="92.09" y1="351.70" x2="92.09" y2="353.30" stroke="#1a6e42" stroke-width="0.9" />
<line x1="90.89" y1="351.70" x2="93.29" y2="351.70" stroke="#1a6e42" stroke-width="0.9" />
<line x1="90.89" y1="353.30" x2="93.29" y2="353.30" stroke="#1a6e42" stroke-width="0.9" />
<line x1="128.28" y1="351.20" x2="128.28" y2="352.80" stroke="#1a6e42" stroke-width="0.9" />
<line x1="127.08" y1="351.20" x2="129.48" y2="351.20" stroke="#1a6e42" stroke-width="0.9" />
<line x1="127.08" y1="352.80" x2="129.48" y2="352.80" stroke="#1a6e42" stroke-width="0.9" />
<line x1="164.47" y1="350.20" x2="164.47" y2="351.80" stroke="#1a6e42" stroke-width="0.9" />
<line x1="163.27" y1="350.20" x2="165.67" y2="350.20" stroke="#1a6e42" stroke-width="0.9" />
<line x1="163.27" y1="351.80" x2="165.67" y2="351.80" stroke="#1a6e42" stroke-width="0.9" />
<line x1="200.66" y1="349.40" x2="200.66" y2="351.00" stroke="#1a6e42" stroke-width="0.9" />
<line x1="199.46" y1="349.40" x2="201.86" y2="349.40" stroke="#1a6e42" stroke-width="0.9" />
<line x1="199.46" y1="351.00" x2="201.86" y2="351.00" stroke="#1a6e42" stroke-width="0.9" />
<rect x="54.30" y="351.20" width="3.20" height="3.20" rx="0.64" fill="#1a6e42"/>
<rect x="90.49" y="350.90" width="3.20" height="3.20" rx="0.64" fill="#1a6e42"/>
<rect x="126.68" y="350.40" width="3.20" height="3.20" rx="0.64" fill="#1a6e42"/>
<rect x="162.87" y="349.40" width="3.20" height="3.20" rx="0.64" fill="#1a6e42"/>
<rect x="199.06" y="348.60" width="3.20" height="3.20" rx="0.64" fill="#1a6e42"/>
<rect x="45.40" y="221.20" width="165.80" height="132.60" fill="none" stroke="#3a3a3a" stroke-width="1.4"/>
<line x1="42.80" y1="353.80" x2="45.40" y2="353.80" stroke="#262626" stroke-width="1.2" />
<text x="38.00" y="357.60" font-size="10.8" text-anchor="end" font-weight="normal" fill="#111" >0</text>
<line x1="42.80" y1="327.28" x2="45.40" y2="327.28" stroke="#262626" stroke-width="1.2" />
<text x="38.00" y="331.08" font-size="10.8" text-anchor="end" font-weight="normal" fill="#111" >1</text>
<line x1="42.80" y1="300.76" x2="45.40" y2="300.76" stroke="#262626" stroke-width="1.2" />
<text x="38.00" y="304.56" font-size="10.8" text-anchor="end" font-weight="normal" fill="#111" >2</text>
<line x1="42.80" y1="274.24" x2="45.40" y2="274.24" stroke="#262626" stroke-width="1.2" />
<text x="38.00" y="278.04" font-size="10.8" text-anchor="end" font-weight="normal" fill="#111" >3</text>
<line x1="42.80" y1="247.72" x2="45.40" y2="247.72" stroke="#262626" stroke-width="1.2" />
<text x="38.00" y="251.52" font-size="10.8" text-anchor="end" font-weight="normal" fill="#111" >4</text>
<line x1="42.80" y1="221.20" x2="45.40" y2="221.20" stroke="#262626" stroke-width="1.2" />
<text x="38.00" y="225.00" font-size="10.8" text-anchor="end" font-weight="normal" fill="#111" >5</text>
<line x1="44.00" y1="340.54" x2="45.40" y2="340.54" stroke="#262626" stroke-width="1.0" />
<line x1="44.00" y1="314.02" x2="45.40" y2="314.02" stroke="#262626" stroke-width="1.0" />
<line x1="44.00" y1="287.50" x2="45.40" y2="287.50" stroke="#262626" stroke-width="1.0" />
<line x1="44.00" y1="260.98" x2="45.40" y2="260.98" stroke="#262626" stroke-width="1.0" />
<line x1="44.00" y1="234.46" x2="45.40" y2="234.46" stroke="#262626" stroke-width="1.0" />
<line x1="55.90" y1="353.80" x2="55.90" y2="356.40" stroke="#262626" stroke-width="1.2" />
<text x="55.90" y="370.30" font-size="10.8" text-anchor="middle" font-weight="normal" fill="#111" >0</text>
<line x1="92.09" y1="353.80" x2="92.09" y2="356.40" stroke="#262626" stroke-width="1.2" />
<text x="92.09" y="370.30" font-size="10.8" text-anchor="middle" font-weight="normal" fill="#111" >7</text>
<line x1="128.28" y1="353.80" x2="128.28" y2="356.40" stroke="#262626" stroke-width="1.2" />
<text x="128.28" y="370.30" font-size="10.8" text-anchor="middle" font-weight="normal" fill="#111" >14</text>
<line x1="164.47" y1="353.80" x2="164.47" y2="356.40" stroke="#262626" stroke-width="1.2" />
<text x="164.47" y="370.30" font-size="10.8" text-anchor="middle" font-weight="normal" fill="#111" >21</text>
<line x1="200.66" y1="353.80" x2="200.66" y2="356.40" stroke="#262626" stroke-width="1.2" />
<text x="200.66" y="370.30" font-size="10.8" text-anchor="middle" font-weight="normal" fill="#111" >28</text>
<line x1="74.00" y1="353.80" x2="74.00" y2="355.20" stroke="#262626" stroke-width="1.0" />
<line x1="110.19" y1="353.80" x2="110.19" y2="355.20" stroke="#262626" stroke-width="1.0" />
<line x1="146.38" y1="353.80" x2="146.38" y2="355.20" stroke="#262626" stroke-width="1.0" />
<line x1="182.56" y1="353.80" x2="182.56" y2="355.20" stroke="#262626" stroke-width="1.0" />
<line x1="130.90" y1="226.30" x2="150.20" y2="226.30" stroke="#c6ecd6" stroke-width="1.2" />
<circle cx="140.50" cy="226.30" r="1.7" fill="#c6ecd6"/>
<line x1="130.90" y1="237.10" x2="150.20" y2="237.10" stroke="#a4e2c2" stroke-width="1.2" />
<circle cx="140.50" cy="237.10" r="1.7" fill="#a4e2c2"/>
<line x1="130.90" y1="247.60" x2="150.20" y2="247.60" stroke="#5ccc94" stroke-width="1.2" />
<circle cx="140.50" cy="247.60" r="1.7" fill="#5ccc94"/>
<line x1="130.90" y1="258.50" x2="150.20" y2="258.50" stroke="#1a6e42" stroke-width="1.2" />
<circle cx="140.50" cy="258.50" r="1.7" fill="#1a6e42"/>
<text x="155.90" y="229.40" font-size="8.95" fill="#222">0mol/L-0%</text>
<text x="155.90" y="240.20" font-size="8.95" fill="#222">1mol/L-0%</text>
<text x="155.90" y="250.70" font-size="8.95" fill="#222">0mol/L-50%</text>
<text x="155.90" y="261.60" font-size="8.95" fill="#222">1mol/L-50%</text>
<text x="0" y="0" font-size="10.8" text-anchor="middle" fill="#111" transform="translate(18.60,289.20) rotate(-90)">Fracture strength (MPa)</text>
<text x="128.30" y="388.10" font-size="10.8" text-anchor="middle" font-weight="normal" fill="#111" >Storage time (day)</text>
<text x="1.50" y="219.20" font-size="18" text-anchor="start" font-weight="bold" fill="#000" >d</text>
<polyline points="294.40,335.90 330.52,340.60 366.64,341.50 402.76,341.80 438.88,341.80" fill="none" stroke="#fcd2b6" stroke-width="1.0"/>
<line x1="294.40" y1="330.40" x2="294.40" y2="341.40" stroke="#fcd2b6" stroke-width="0.9" />
<line x1="293.20" y1="330.40" x2="295.60" y2="330.40" stroke="#fcd2b6" stroke-width="0.9" />
<line x1="293.20" y1="341.40" x2="295.60" y2="341.40" stroke="#fcd2b6" stroke-width="0.9" />
<line x1="330.52" y1="337.60" x2="330.52" y2="343.60" stroke="#fcd2b6" stroke-width="0.9" />
<line x1="329.32" y1="337.60" x2="331.72" y2="337.60" stroke="#fcd2b6" stroke-width="0.9" />
<line x1="329.32" y1="343.60" x2="331.72" y2="343.60" stroke="#fcd2b6" stroke-width="0.9" />
<line x1="366.64" y1="339.00" x2="366.64" y2="344.00" stroke="#fcd2b6" stroke-width="0.9" />
<line x1="365.44" y1="339.00" x2="367.84" y2="339.00" stroke="#fcd2b6" stroke-width="0.9" />
<line x1="365.44" y1="344.00" x2="367.84" y2="344.00" stroke="#fcd2b6" stroke-width="0.9" />
<line x1="402.76" y1="339.30" x2="402.76" y2="344.30" stroke="#fcd2b6" stroke-width="0.9" />
<line x1="401.56" y1="339.30" x2="403.96" y2="339.30" stroke="#fcd2b6" stroke-width="0.9" />
<line x1="401.56" y1="344.30" x2="403.96" y2="344.30" stroke="#fcd2b6" stroke-width="0.9" />
<line x1="438.88" y1="340.80" x2="438.88" y2="342.80" stroke="#fcd2b6" stroke-width="0.9" />
<line x1="437.68" y1="340.80" x2="440.08" y2="340.80" stroke="#fcd2b6" stroke-width="0.9" />
<line x1="437.68" y1="342.80" x2="440.08" y2="342.80" stroke="#fcd2b6" stroke-width="0.9" />
<rect x="292.80" y="334.30" width="3.20" height="3.20" rx="0.64" fill="#fcd2b6"/>
<rect x="328.92" y="339.00" width="3.20" height="3.20" rx="0.64" fill="#fcd2b6"/>
<rect x="365.04" y="339.90" width="3.20" height="3.20" rx="0.64" fill="#fcd2b6"/>
<rect x="401.16" y="340.20" width="3.20" height="3.20" rx="0.64" fill="#fcd2b6"/>
<rect x="437.28" y="340.20" width="3.20" height="3.20" rx="0.64" fill="#fcd2b6"/>
<polyline points="294.40,290.10 330.52,300.20 366.64,302.50 402.76,309.50 438.88,310.70" fill="none" stroke="#fab48a" stroke-width="1.0"/>
<line x1="294.40" y1="285.10" x2="294.40" y2="295.10" stroke="#fab48a" stroke-width="0.9" />
<line x1="293.20" y1="285.10" x2="295.60" y2="285.10" stroke="#fab48a" stroke-width="0.9" />
<line x1="293.20" y1="295.10" x2="295.60" y2="295.10" stroke="#fab48a" stroke-width="0.9" />
<line x1="330.52" y1="296.70" x2="330.52" y2="303.70" stroke="#fab48a" stroke-width="0.9" />
<line x1="329.32" y1="296.70" x2="331.72" y2="296.70" stroke="#fab48a" stroke-width="0.9" />
<line x1="329.32" y1="303.70" x2="331.72" y2="303.70" stroke="#fab48a" stroke-width="0.9" />
<line x1="366.64" y1="301.50" x2="366.64" y2="303.50" stroke="#fab48a" stroke-width="0.9" />
<line x1="365.44" y1="301.50" x2="367.84" y2="301.50" stroke="#fab48a" stroke-width="0.9" />
<line x1="365.44" y1="303.50" x2="367.84" y2="303.50" stroke="#fab48a" stroke-width="0.9" />
<line x1="402.76" y1="308.00" x2="402.76" y2="311.00" stroke="#fab48a" stroke-width="0.9" />
<line x1="401.56" y1="308.00" x2="403.96" y2="308.00" stroke="#fab48a" stroke-width="0.9" />
<line x1="401.56" y1="311.00" x2="403.96" y2="311.00" stroke="#fab48a" stroke-width="0.9" />
<line x1="438.88" y1="309.70" x2="438.88" y2="311.70" stroke="#fab48a" stroke-width="0.9" />
<line x1="437.68" y1="309.70" x2="440.08" y2="309.70" stroke="#fab48a" stroke-width="0.9" />
<line x1="437.68" y1="311.70" x2="440.08" y2="311.70" stroke="#fab48a" stroke-width="0.9" />
<rect x="292.80" y="288.50" width="3.20" height="3.20" rx="0.64" fill="#fab48a"/>
<rect x="328.92" y="298.60" width="3.20" height="3.20" rx="0.64" fill="#fab48a"/>
<rect x="365.04" y="300.90" width="3.20" height="3.20" rx="0.64" fill="#fab48a"/>
<rect x="401.16" y="307.90" width="3.20" height="3.20" rx="0.64" fill="#fab48a"/>
<rect x="437.28" y="309.10" width="3.20" height="3.20" rx="0.64" fill="#fab48a"/>
<polyline points="294.40,274.40 330.52,279.50 366.64,282.70 402.76,284.40 438.88,286.80" fill="none" stroke="#fa8a40" stroke-width="1.0"/>
<line x1="294.40" y1="271.40" x2="294.40" y2="277.40" stroke="#fa8a40" stroke-width="0.9" />
<line x1="293.20" y1="271.40" x2="295.60" y2="271.40" stroke="#fa8a40" stroke-width="0.9" />
<line x1="293.20" y1="277.40" x2="295.60" y2="277.40" stroke="#fa8a40" stroke-width="0.9" />
<line x1="330.52" y1="275.50" x2="330.52" y2="283.50" stroke="#fa8a40" stroke-width="0.9" />
<line x1="329.32" y1="275.50" x2="331.72" y2="275.50" stroke="#fa8a40" stroke-width="0.9" />
<line x1="329.32" y1="283.50" x2="331.72" y2="283.50" stroke="#fa8a40" stroke-width="0.9" />
<line x1="366.64" y1="280.70" x2="366.64" y2="284.70" stroke="#fa8a40" stroke-width="0.9" />
<line x1="365.44" y1="280.70" x2="367.84" y2="280.70" stroke="#fa8a40" stroke-width="0.9" />
<line x1="365.44" y1="284.70" x2="367.84" y2="284.70" stroke="#fa8a40" stroke-width="0.9" />
<line x1="402.76" y1="281.90" x2="402.76" y2="286.90" stroke="#fa8a40" stroke-width="0.9" />
<line x1="401.56" y1="281.90" x2="403.96" y2="281.90" stroke="#fa8a40" stroke-width="0.9" />
<line x1="401.56" y1="286.90" x2="403.96" y2="286.90" stroke="#fa8a40" stroke-width="0.9" />
<line x1="438.88" y1="284.30" x2="438.88" y2="289.30" stroke="#fa8a40" stroke-width="0.9" />
<line x1="437.68" y1="284.30" x2="440.08" y2="284.30" stroke="#fa8a40" stroke-width="0.9" />
<line x1="437.68" y1="289.30" x2="440.08" y2="289.30" stroke="#fa8a40" stroke-width="0.9" />
<rect x="292.80" y="272.80" width="3.20" height="3.20" rx="0.64" fill="#fa8a40"/>
<rect x="328.92" y="277.90" width="3.20" height="3.20" rx="0.64" fill="#fa8a40"/>
<rect x="365.04" y="281.10" width="3.20" height="3.20" rx="0.64" fill="#fa8a40"/>
<rect x="401.16" y="282.80" width="3.20" height="3.20" rx="0.64" fill="#fa8a40"/>
<rect x="437.28" y="285.20" width="3.20" height="3.20" rx="0.64" fill="#fa8a40"/>
<polyline points="294.40,264.70 330.52,266.90 366.64,270.00 402.76,272.60 438.88,274.30" fill="none" stroke="#a84200" stroke-width="1.0"/>
<line x1="294.40" y1="255.40" x2="294.40" y2="274.00" stroke="#a84200" stroke-width="0.9" />
<line x1="293.20" y1="255.40" x2="295.60" y2="255.40" stroke="#a84200" stroke-width="0.9" />
<line x1="293.20" y1="274.00" x2="295.60" y2="274.00" stroke="#a84200" stroke-width="0.9" />
<line x1="330.52" y1="262.40" x2="330.52" y2="271.40" stroke="#a84200" stroke-width="0.9" />
<line x1="329.32" y1="262.40" x2="331.72" y2="262.40" stroke="#a84200" stroke-width="0.9" />
<line x1="329.32" y1="271.40" x2="331.72" y2="271.40" stroke="#a84200" stroke-width="0.9" />
<line x1="366.64" y1="266.20" x2="366.64" y2="273.80" stroke="#a84200" stroke-width="0.9" />
<line x1="365.44" y1="266.20" x2="367.84" y2="266.20" stroke="#a84200" stroke-width="0.9" />
<line x1="365.44" y1="273.80" x2="367.84" y2="273.80" stroke="#a84200" stroke-width="0.9" />
<line x1="402.76" y1="269.60" x2="402.76" y2="275.60" stroke="#a84200" stroke-width="0.9" />
<line x1="401.56" y1="269.60" x2="403.96" y2="269.60" stroke="#a84200" stroke-width="0.9" />
<line x1="401.56" y1="275.60" x2="403.96" y2="275.60" stroke="#a84200" stroke-width="0.9" />
<line x1="438.88" y1="271.80" x2="438.88" y2="276.80" stroke="#a84200" stroke-width="0.9" />
<line x1="437.68" y1="271.80" x2="440.08" y2="271.80" stroke="#a84200" stroke-width="0.9" />
<line x1="437.68" y1="276.80" x2="440.08" y2="276.80" stroke="#a84200" stroke-width="0.9" />
<rect x="292.80" y="263.10" width="3.20" height="3.20" rx="0.64" fill="#a84200"/>
<rect x="328.92" y="265.30" width="3.20" height="3.20" rx="0.64" fill="#a84200"/>
<rect x="365.04" y="268.40" width="3.20" height="3.20" rx="0.64" fill="#a84200"/>
<rect x="401.16" y="271.00" width="3.20" height="3.20" rx="0.64" fill="#a84200"/>
<rect x="437.28" y="272.70" width="3.20" height="3.20" rx="0.64" fill="#a84200"/>
<rect x="284.10" y="221.20" width="165.20" height="132.50" fill="none" stroke="#3a3a3a" stroke-width="1.4"/>
<line x1="281.50" y1="288.90" x2="284.10" y2="288.90" stroke="#262626" stroke-width="1.2" />
<text x="275.50" y="292.70" font-size="10.8" text-anchor="end" font-weight="normal" fill="#111" >6</text>
<line x1="281.50" y1="255.12" x2="284.10" y2="255.12" stroke="#262626" stroke-width="1.2" />
<text x="275.50" y="258.92" font-size="10.8" text-anchor="end" font-weight="normal" fill="#111" >12</text>
<line x1="281.50" y1="221.34" x2="284.10" y2="221.34" stroke="#262626" stroke-width="1.2" />
<text x="275.50" y="225.14" font-size="10.8" text-anchor="end" font-weight="normal" fill="#111" >18</text>
<line x1="282.70" y1="272.01" x2="284.10" y2="272.01" stroke="#262626" stroke-width="1.0" />
<line x1="282.70" y1="238.23" x2="284.10" y2="238.23" stroke="#262626" stroke-width="1.0" />
<line x1="282.70" y1="305.79" x2="284.10" y2="305.79" stroke="#262626" stroke-width="1.0" />
<line x1="281.50" y1="347.10" x2="284.10" y2="347.10" stroke="#262626" stroke-width="1.2" />
<text x="275.30" y="350.90" font-size="10.8" text-anchor="end" font-weight="normal" fill="#111" >0.00</text>
<line x1="281.50" y1="322.00" x2="284.10" y2="322.00" stroke="#262626" stroke-width="1.2" />
<text x="275.30" y="325.80" font-size="10.8" text-anchor="end" font-weight="normal" fill="#111" >0.08</text>
<line x1="282.70" y1="334.55" x2="284.10" y2="334.55" stroke="#262626" stroke-width="1.0" />
<polygon points="281.10,315.20 287.10,312.80 287.10,312.20 281.10,315.80" fill="#fff"/>
<rect x="282.60" y="312.20" width="3" height="2.8" fill="#fff"/>
<line x1="281.70" y1="313.50" x2="287.40" y2="311.10" stroke="#262626" stroke-width="1.4" />
<line x1="281.70" y1="316.30" x2="287.40" y2="313.90" stroke="#262626" stroke-width="1.4" />
<polygon points="446.30,315.20 452.30,312.80 452.30,312.20 446.30,315.80" fill="#fff"/>
<rect x="447.80" y="312.20" width="3" height="2.8" fill="#fff"/>
<line x1="446.90" y1="313.50" x2="452.60" y2="311.10" stroke="#262626" stroke-width="1.4" />
<line x1="446.90" y1="316.30" x2="452.60" y2="313.90" stroke="#262626" stroke-width="1.4" />
<line x1="294.40" y1="353.70" x2="294.40" y2="356.30" stroke="#262626" stroke-width="1.2" />
<text x="294.40" y="370.20" font-size="10.8" text-anchor="middle" font-weight="normal" fill="#111" >0</text>
<line x1="330.52" y1="353.70" x2="330.52" y2="356.30" stroke="#262626" stroke-width="1.2" />
<text x="330.52" y="370.20" font-size="10.8" text-anchor="middle" font-weight="normal" fill="#111" >7</text>
<line x1="366.64" y1="353.70" x2="366.64" y2="356.30" stroke="#262626" stroke-width="1.2" />
<text x="366.64" y="370.20" font-size="10.8" text-anchor="middle" font-weight="normal" fill="#111" >14</text>
<line x1="402.76" y1="353.70" x2="402.76" y2="356.30" stroke="#262626" stroke-width="1.2" />
<text x="402.76" y="370.20" font-size="10.8" text-anchor="middle" font-weight="normal" fill="#111" >21</text>
<line x1="438.88" y1="353.70" x2="438.88" y2="356.30" stroke="#262626" stroke-width="1.2" />
<text x="438.88" y="370.20" font-size="10.8" text-anchor="middle" font-weight="normal" fill="#111" >28</text>
<line x1="312.46" y1="353.70" x2="312.46" y2="355.10" stroke="#262626" stroke-width="1.0" />
<line x1="348.58" y1="353.70" x2="348.58" y2="355.10" stroke="#262626" stroke-width="1.0" />
<line x1="384.70" y1="353.70" x2="384.70" y2="355.10" stroke="#262626" stroke-width="1.0" />
<line x1="420.82" y1="353.70" x2="420.82" y2="355.10" stroke="#262626" stroke-width="1.0" />
<line x1="371.80" y1="227.20" x2="391.30" y2="227.20" stroke="#fcd2b6" stroke-width="1.2" />
<circle cx="381.40" cy="227.20" r="1.7" fill="#fcd2b6"/>
<line x1="371.80" y1="238.00" x2="391.30" y2="238.00" stroke="#fab48a" stroke-width="1.2" />
<circle cx="381.40" cy="238.00" r="1.7" fill="#fab48a"/>
<line x1="371.80" y1="248.50" x2="391.30" y2="248.50" stroke="#fa8a40" stroke-width="1.2" />
<circle cx="381.40" cy="248.50" r="1.7" fill="#fa8a40"/>
<line x1="371.80" y1="259.20" x2="391.30" y2="259.20" stroke="#a84200" stroke-width="1.2" />
<circle cx="381.40" cy="259.20" r="1.7" fill="#a84200"/>
<text x="396.80" y="230.30" font-size="8.95" fill="#222">0mol/L-0%</text>
<text x="396.80" y="241.10" font-size="8.95" fill="#222">1mol/L-0%</text>
<text x="396.80" y="251.60" font-size="8.95" fill="#222">0mol/L-50%</text>
<text x="396.80" y="262.30" font-size="8.95" fill="#222">1mol/L-50%</text>
<text x="0" y="0" font-size="10.8" text-anchor="middle" fill="#111" transform="translate(243.00,288.80) rotate(-90)">Tensile strain (mm/mm)</text>
<text x="366.70" y="388.10" font-size="10.8" text-anchor="middle" font-weight="normal" fill="#111" >Storage time (day)</text>
<text x="233.20" y="219.20" font-size="18" text-anchor="start" font-weight="bold" fill="#000" >e</text>
<polyline points="527.30,287.30 563.45,276.00 599.60,274.10 635.74,273.40 671.89,272.50" fill="none" stroke="#f8c4c4" stroke-width="1.0"/>
<line x1="527.30" y1="273.30" x2="527.30" y2="301.30" stroke="#f8c4c4" stroke-width="0.9" />
<line x1="526.10" y1="273.30" x2="528.50" y2="273.30" stroke="#f8c4c4" stroke-width="0.9" />
<line x1="526.10" y1="301.30" x2="528.50" y2="301.30" stroke="#f8c4c4" stroke-width="0.9" />
<line x1="563.45" y1="274.50" x2="563.45" y2="277.50" stroke="#f8c4c4" stroke-width="0.9" />
<line x1="562.25" y1="274.50" x2="564.65" y2="274.50" stroke="#f8c4c4" stroke-width="0.9" />
<line x1="562.25" y1="277.50" x2="564.65" y2="277.50" stroke="#f8c4c4" stroke-width="0.9" />
<line x1="599.60" y1="273.10" x2="599.60" y2="275.10" stroke="#f8c4c4" stroke-width="0.9" />
<line x1="598.40" y1="273.10" x2="600.80" y2="273.10" stroke="#f8c4c4" stroke-width="0.9" />
<line x1="598.40" y1="275.10" x2="600.80" y2="275.10" stroke="#f8c4c4" stroke-width="0.9" />
<line x1="635.74" y1="272.40" x2="635.74" y2="274.40" stroke="#f8c4c4" stroke-width="0.9" />
<line x1="634.54" y1="272.40" x2="636.94" y2="272.40" stroke="#f8c4c4" stroke-width="0.9" />
<line x1="634.54" y1="274.40" x2="636.94" y2="274.40" stroke="#f8c4c4" stroke-width="0.9" />
<line x1="671.89" y1="271.00" x2="671.89" y2="274.00" stroke="#f8c4c4" stroke-width="0.9" />
<line x1="670.69" y1="271.00" x2="673.09" y2="271.00" stroke="#f8c4c4" stroke-width="0.9" />
<line x1="670.69" y1="274.00" x2="673.09" y2="274.00" stroke="#f8c4c4" stroke-width="0.9" />
<rect x="525.70" y="285.70" width="3.20" height="3.20" rx="0.64" fill="#f8c4c4"/>
<rect x="561.85" y="274.40" width="3.20" height="3.20" rx="0.64" fill="#f8c4c4"/>
<rect x="598.00" y="272.50" width="3.20" height="3.20" rx="0.64" fill="#f8c4c4"/>
<rect x="634.14" y="271.80" width="3.20" height="3.20" rx="0.64" fill="#f8c4c4"/>
<rect x="670.29" y="270.90" width="3.20" height="3.20" rx="0.64" fill="#f8c4c4"/>
<polyline points="527.30,300.00 563.45,297.20 599.60,290.50 635.74,284.00 671.89,283.40" fill="none" stroke="#f59a9a" stroke-width="1.0"/>
<line x1="527.30" y1="293.50" x2="527.30" y2="306.50" stroke="#f59a9a" stroke-width="0.9" />
<line x1="526.10" y1="293.50" x2="528.50" y2="293.50" stroke="#f59a9a" stroke-width="0.9" />
<line x1="526.10" y1="306.50" x2="528.50" y2="306.50" stroke="#f59a9a" stroke-width="0.9" />
<line x1="563.45" y1="290.20" x2="563.45" y2="304.20" stroke="#f59a9a" stroke-width="0.9" />
<line x1="562.25" y1="290.20" x2="564.65" y2="290.20" stroke="#f59a9a" stroke-width="0.9" />
<line x1="562.25" y1="304.20" x2="564.65" y2="304.20" stroke="#f59a9a" stroke-width="0.9" />
<line x1="599.60" y1="284.50" x2="599.60" y2="296.50" stroke="#f59a9a" stroke-width="0.9" />
<line x1="598.40" y1="284.50" x2="600.80" y2="284.50" stroke="#f59a9a" stroke-width="0.9" />
<line x1="598.40" y1="296.50" x2="600.80" y2="296.50" stroke="#f59a9a" stroke-width="0.9" />
<line x1="635.74" y1="281.00" x2="635.74" y2="287.00" stroke="#f59a9a" stroke-width="0.9" />
<line x1="634.54" y1="281.00" x2="636.94" y2="281.00" stroke="#f59a9a" stroke-width="0.9" />
<line x1="634.54" y1="287.00" x2="636.94" y2="287.00" stroke="#f59a9a" stroke-width="0.9" />
<line x1="671.89" y1="280.40" x2="671.89" y2="286.40" stroke="#f59a9a" stroke-width="0.9" />
<line x1="670.69" y1="280.40" x2="673.09" y2="280.40" stroke="#f59a9a" stroke-width="0.9" />
<line x1="670.69" y1="286.40" x2="673.09" y2="286.40" stroke="#f59a9a" stroke-width="0.9" />
<rect x="525.70" y="298.40" width="3.20" height="3.20" rx="0.64" fill="#f59a9a"/>
<rect x="561.85" y="295.60" width="3.20" height="3.20" rx="0.64" fill="#f59a9a"/>
<rect x="598.00" y="288.90" width="3.20" height="3.20" rx="0.64" fill="#f59a9a"/>
<rect x="634.14" y="282.40" width="3.20" height="3.20" rx="0.64" fill="#f59a9a"/>
<rect x="670.29" y="281.80" width="3.20" height="3.20" rx="0.64" fill="#f59a9a"/>
<polyline points="527.30,339.50 563.45,336.30 599.60,330.40 635.74,324.70 671.89,322.50" fill="none" stroke="#f06c7a" stroke-width="1.0"/>
<line x1="527.30" y1="336.50" x2="527.30" y2="342.50" stroke="#f06c7a" stroke-width="0.9" />
<line x1="526.10" y1="336.50" x2="528.50" y2="336.50" stroke="#f06c7a" stroke-width="0.9" />
<line x1="526.10" y1="342.50" x2="528.50" y2="342.50" stroke="#f06c7a" stroke-width="0.9" />
<line x1="563.45" y1="333.30" x2="563.45" y2="339.30" stroke="#f06c7a" stroke-width="0.9" />
<line x1="562.25" y1="333.30" x2="564.65" y2="333.30" stroke="#f06c7a" stroke-width="0.9" />
<line x1="562.25" y1="339.30" x2="564.65" y2="339.30" stroke="#f06c7a" stroke-width="0.9" />
<line x1="599.60" y1="325.40" x2="599.60" y2="335.40" stroke="#f06c7a" stroke-width="0.9" />
<line x1="598.40" y1="325.40" x2="600.80" y2="325.40" stroke="#f06c7a" stroke-width="0.9" />
<line x1="598.40" y1="335.40" x2="600.80" y2="335.40" stroke="#f06c7a" stroke-width="0.9" />
<line x1="635.74" y1="321.20" x2="635.74" y2="328.20" stroke="#f06c7a" stroke-width="0.9" />
<line x1="634.54" y1="321.20" x2="636.94" y2="321.20" stroke="#f06c7a" stroke-width="0.9" />
<line x1="634.54" y1="328.20" x2="636.94" y2="328.20" stroke="#f06c7a" stroke-width="0.9" />
<line x1="671.89" y1="318.00" x2="671.89" y2="327.00" stroke="#f06c7a" stroke-width="0.9" />
<line x1="670.69" y1="318.00" x2="673.09" y2="318.00" stroke="#f06c7a" stroke-width="0.9" />
<line x1="670.69" y1="327.00" x2="673.09" y2="327.00" stroke="#f06c7a" stroke-width="0.9" />
<rect x="525.70" y="337.90" width="3.20" height="3.20" rx="0.64" fill="#f06c7a"/>
<rect x="561.85" y="334.70" width="3.20" height="3.20" rx="0.64" fill="#f06c7a"/>
<rect x="598.00" y="328.80" width="3.20" height="3.20" rx="0.64" fill="#f06c7a"/>
<rect x="634.14" y="323.10" width="3.20" height="3.20" rx="0.64" fill="#f06c7a"/>
<rect x="670.29" y="320.90" width="3.20" height="3.20" rx="0.64" fill="#f06c7a"/>
<polyline points="527.30,343.30 563.45,342.30 599.60,341.50 635.74,338.90 671.89,338.30" fill="none" stroke="#c80614" stroke-width="1.0"/>
<line x1="527.30" y1="341.80" x2="527.30" y2="344.80" stroke="#c80614" stroke-width="0.9" />
<line x1="526.10" y1="341.80" x2="528.50" y2="341.80" stroke="#c80614" stroke-width="0.9" />
<line x1="526.10" y1="344.80" x2="528.50" y2="344.80" stroke="#c80614" stroke-width="0.9" />
<line x1="563.45" y1="340.80" x2="563.45" y2="343.80" stroke="#c80614" stroke-width="0.9" />
<line x1="562.25" y1="340.80" x2="564.65" y2="340.80" stroke="#c80614" stroke-width="0.9" />
<line x1="562.25" y1="343.80" x2="564.65" y2="343.80" stroke="#c80614" stroke-width="0.9" />
<line x1="599.60" y1="339.50" x2="599.60" y2="343.50" stroke="#c80614" stroke-width="0.9" />
<line x1="598.40" y1="339.50" x2="600.80" y2="339.50" stroke="#c80614" stroke-width="0.9" />
<line x1="598.40" y1="343.50" x2="600.80" y2="343.50" stroke="#c80614" stroke-width="0.9" />
<line x1="635.74" y1="335.40" x2="635.74" y2="342.40" stroke="#c80614" stroke-width="0.9" />
<line x1="634.54" y1="335.40" x2="636.94" y2="335.40" stroke="#c80614" stroke-width="0.9" />
<line x1="634.54" y1="342.40" x2="636.94" y2="342.40" stroke="#c80614" stroke-width="0.9" />
<line x1="671.89" y1="335.30" x2="671.89" y2="341.30" stroke="#c80614" stroke-width="0.9" />
<line x1="670.69" y1="335.30" x2="673.09" y2="335.30" stroke="#c80614" stroke-width="0.9" />
<line x1="670.69" y1="341.30" x2="673.09" y2="341.30" stroke="#c80614" stroke-width="0.9" />
<rect x="525.70" y="341.70" width="3.20" height="3.20" rx="0.64" fill="#c80614"/>
<rect x="561.85" y="340.70" width="3.20" height="3.20" rx="0.64" fill="#c80614"/>
<rect x="598.00" y="339.90" width="3.20" height="3.20" rx="0.64" fill="#c80614"/>
<rect x="634.14" y="337.30" width="3.20" height="3.20" rx="0.64" fill="#c80614"/>
<rect x="670.29" y="336.70" width="3.20" height="3.20" rx="0.64" fill="#c80614"/>
<rect x="516.50" y="221.00" width="165.80" height="132.70" fill="none" stroke="#3a3a3a" stroke-width="1.4"/>
<line x1="513.90" y1="297.30" x2="516.50" y2="297.30" stroke="#262626" stroke-width="1.2" />
<text x="509.10" y="301.10" font-size="10.8" text-anchor="end" font-weight="normal" fill="#111" >5</text>
<line x1="513.90" y1="259.30" x2="516.50" y2="259.30" stroke="#262626" stroke-width="1.2" />
<text x="509.10" y="263.10" font-size="10.8" text-anchor="end" font-weight="normal" fill="#111" >10</text>
<line x1="513.90" y1="221.30" x2="516.50" y2="221.30" stroke="#262626" stroke-width="1.2" />
<text x="509.10" y="225.10" font-size="10.8" text-anchor="end" font-weight="normal" fill="#111" >15</text>
<line x1="515.10" y1="278.30" x2="516.50" y2="278.30" stroke="#262626" stroke-width="1.0" />
<line x1="515.10" y1="240.30" x2="516.50" y2="240.30" stroke="#262626" stroke-width="1.0" />
<line x1="513.90" y1="353.70" x2="516.50" y2="353.70" stroke="#262626" stroke-width="1.2" />
<text x="509.10" y="357.50" font-size="10.8" text-anchor="end" font-weight="normal" fill="#111" >0.0</text>
<line x1="513.90" y1="323.30" x2="516.50" y2="323.30" stroke="#262626" stroke-width="1.2" />
<text x="509.10" y="327.10" font-size="10.8" text-anchor="end" font-weight="normal" fill="#111" >0.8</text>
<line x1="515.10" y1="338.50" x2="516.50" y2="338.50" stroke="#262626" stroke-width="1.0" />
<polygon points="513.50,315.80 519.50,313.40 519.50,312.80 513.50,316.40" fill="#fff"/>
<rect x="515.00" y="312.80" width="3" height="2.8" fill="#fff"/>
<line x1="514.10" y1="314.10" x2="519.80" y2="311.70" stroke="#262626" stroke-width="1.4" />
<line x1="514.10" y1="316.90" x2="519.80" y2="314.50" stroke="#262626" stroke-width="1.4" />
<polygon points="679.30,315.80 685.30,313.40 685.30,312.80 679.30,316.40" fill="#fff"/>
<rect x="680.80" y="312.80" width="3" height="2.8" fill="#fff"/>
<line x1="679.90" y1="314.10" x2="685.60" y2="311.70" stroke="#262626" stroke-width="1.4" />
<line x1="679.90" y1="316.90" x2="685.60" y2="314.50" stroke="#262626" stroke-width="1.4" />
<line x1="527.30" y1="353.70" x2="527.30" y2="356.30" stroke="#262626" stroke-width="1.2" />
<text x="527.30" y="370.20" font-size="10.8" text-anchor="middle" font-weight="normal" fill="#111" >0</text>
<line x1="563.45" y1="353.70" x2="563.45" y2="356.30" stroke="#262626" stroke-width="1.2" />
<text x="563.45" y="370.20" font-size="10.8" text-anchor="middle" font-weight="normal" fill="#111" >7</text>
<line x1="599.60" y1="353.70" x2="599.60" y2="356.30" stroke="#262626" stroke-width="1.2" />
<text x="599.60" y="370.20" font-size="10.8" text-anchor="middle" font-weight="normal" fill="#111" >14</text>
<line x1="635.74" y1="353.70" x2="635.74" y2="356.30" stroke="#262626" stroke-width="1.2" />
<text x="635.74" y="370.20" font-size="10.8" text-anchor="middle" font-weight="normal" fill="#111" >21</text>
<line x1="671.89" y1="353.70" x2="671.89" y2="356.30" stroke="#262626" stroke-width="1.2" />
<text x="671.89" y="370.20" font-size="10.8" text-anchor="middle" font-weight="normal" fill="#111" >28</text>
<line x1="545.37" y1="353.70" x2="545.37" y2="355.10" stroke="#262626" stroke-width="1.0" />
<line x1="581.52" y1="353.70" x2="581.52" y2="355.10" stroke="#262626" stroke-width="1.0" />
<line x1="617.67" y1="353.70" x2="617.67" y2="355.10" stroke="#262626" stroke-width="1.0" />
<line x1="653.82" y1="353.70" x2="653.82" y2="355.10" stroke="#262626" stroke-width="1.0" />
<line x1="603.90" y1="228.50" x2="623.60" y2="228.50" stroke="#f8c4c4" stroke-width="1.2" />
<circle cx="614.00" cy="228.50" r="1.7" fill="#f8c4c4"/>
<line x1="603.90" y1="239.30" x2="623.60" y2="239.30" stroke="#f59a9a" stroke-width="1.2" />
<circle cx="614.00" cy="239.30" r="1.7" fill="#f59a9a"/>
<line x1="603.90" y1="249.80" x2="623.60" y2="249.80" stroke="#f06c7a" stroke-width="1.2" />
<circle cx="614.00" cy="249.80" r="1.7" fill="#f06c7a"/>
<line x1="603.90" y1="260.30" x2="623.60" y2="260.30" stroke="#c80614" stroke-width="1.2" />
<circle cx="614.00" cy="260.30" r="1.7" fill="#c80614"/>
<text x="628.90" y="231.60" font-size="8.95" fill="#222">0mol/L-0%</text>
<text x="628.90" y="242.40" font-size="8.95" fill="#222">1mol/L-0%</text>
<text x="628.90" y="252.90" font-size="8.95" fill="#222">0mol/L-50%</text>
<text x="628.90" y="263.40" font-size="8.95" fill="#222">1mol/L-50%</text>
<text x="0" y="0" font-size="10.8" text-anchor="middle" fill="#111" transform="translate(482.50,287.50) rotate(-90)">Work of tension (MJ/m3)</text>
<text x="599.40" y="388.10" font-size="10.8" text-anchor="middle" font-weight="normal" fill="#111" >Storage time (day)</text>
<text x="473.30" y="219.50" font-size="18" text-anchor="start" font-weight="bold" fill="#000" >f</text>
</svg></body></html>
